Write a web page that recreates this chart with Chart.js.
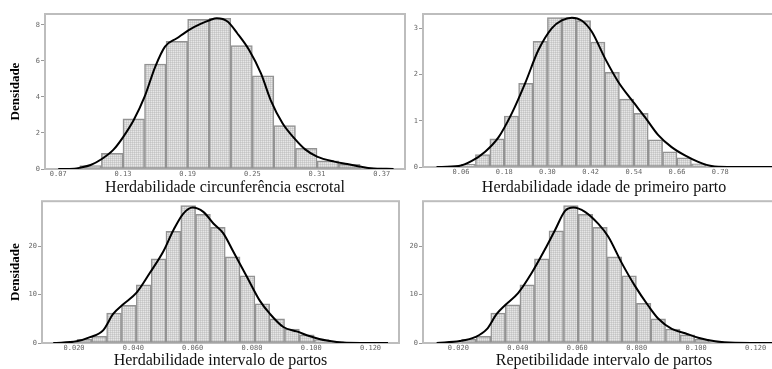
<!DOCTYPE html>
<html>
<head>
<meta charset="utf-8">
<script src="https://cdn.jsdelivr.net/npm/chart.js@4.4.1/dist/chart.umd.min.js"></script>
<style>
  html, body { margin: 0; padding: 0; background: #fff; overflow: hidden; }
  body { width: 772px; height: 369px; position: relative; }
  canvas { position: absolute; }
</style>
</head>
<body>
<canvas id="ceChart" width="410" height="197" style="left:0;top:0"></canvas>
<canvas id="ippChart" width="405" height="197" style="left:385px;top:0"></canvas>
<canvas id="ipHerChart" width="404" height="174" style="left:0;top:196px"></canvas>
<canvas id="ipRepChart" width="405" height="174" style="left:385px;top:196px"></canvas>
<script>
// Posterior densities: histogram bins (left edges) + smoothed density curve

// Herdabilidade circunferencia escrotal
const ceBins = [0.09, 0.11, 0.13, 0.15, 0.17, 0.19, 0.21, 0.23, 0.25, 0.27, 0.29, 0.31, 0.33, 0.35];
const ceHeights = [0.19, 0.87, 2.78, 5.83, 7.09, 8.31, 8.37, 6.85, 5.17, 2.41, 1.15, 0.46, 0.26, 0.05];
const ceCurveX = [0.070, 0.085, 0.090, 0.100, 0.110, 0.121, 0.130, 0.140, 0.150, 0.160, 0.169, 0.180, 0.191, 0.202, 0.211, 0.217, 0.227, 0.236, 0.247, 0.258, 0.267, 0.278, 0.289, 0.299, 0.310, 0.326, 0.338, 0.351, 0.360, 0.381];
const ceCurveY = [0, 0.02, 0.07, 0.22, 0.54, 1.06, 1.76, 2.72, 4.00, 5.69, 6.80, 7.26, 7.72, 8.06, 8.28, 8.37, 8.19, 7.54, 6.61, 5.31, 3.83, 2.54, 1.70, 1.09, 0.69, 0.41, 0.28, 0.13, 0.04, 0];
const ceXTicks = [0.07, 0.13, 0.19, 0.25, 0.31, 0.37];
const ceYTicks = [0, 2, 4, 6, 8];

// Herdabilidade idade de primeiro parto
const ippBins = [0.06, 0.10, 0.14, 0.18, 0.22, 0.26, 0.30, 0.34, 0.38, 0.42, 0.46, 0.50, 0.54, 0.58, 0.62, 0.66, 0.70];
const ippHeights = [0.06, 0.27, 0.61, 1.10, 1.81, 2.72, 3.23, 3.23, 3.17, 2.70, 2.05, 1.47, 1.16, 0.59, 0.33, 0.20, 0.07];
const ippCurveX = [-0.008, 0.053, 0.090, 0.127, 0.164, 0.201, 0.238, 0.275, 0.312, 0.340, 0.368, 0.395, 0.423, 0.460, 0.497, 0.534, 0.571, 0.608, 0.645, 0.682, 0.719, 0.756, 0.800, 0.960];
const ippCurveY = [0, 0.02, 0.13, 0.33, 0.64, 1.16, 1.81, 2.53, 3.00, 3.17, 3.23, 3.17, 2.93, 2.35, 1.84, 1.45, 1.08, 0.69, 0.43, 0.25, 0.11, 0.02, 0, 0];
const ippXTicks = [0.06, 0.18, 0.30, 0.42, 0.54, 0.66, 0.78];
const ippYTicks = [0, 1, 2, 3];

// Herdabilidade intervalo de partos
const ipHerBins = [0.021, 0.026, 0.031, 0.036, 0.041, 0.046, 0.051, 0.056, 0.061, 0.066, 0.071, 0.076, 0.081, 0.086, 0.091, 0.096, 0.101, 0.106];
const ipHerHeights = [0.75, 1.4, 6.2, 7.8, 12.0, 17.4, 23.1, 28.4, 26.6, 23.9, 17.8, 13.9, 8.1, 5.0, 2.9, 1.7, 0.7, 0.25];
const ipHerCurveX = [0.0130, 0.0209, 0.0254, 0.0298, 0.0332, 0.0366, 0.0411, 0.0456, 0.0501, 0.0535, 0.0568, 0.0600, 0.0636, 0.0670, 0.0703, 0.0737, 0.0782, 0.0827, 0.0861, 0.0906, 0.0951, 0.0996, 0.1052, 0.1119, 0.1259];
const ipHerCurveY = [0, 0.34, 1.2, 2.6, 6.0, 8.0, 10.4, 14.5, 18.9, 23.3, 26.7, 28.0, 27.1, 24.7, 22.7, 18.9, 13.8, 8.7, 6.0, 3.3, 2.4, 1.4, 0.5, 0.07, 0];

// Repetibilidade intervalo de partos
const ipRepBins = [0.0211, 0.0260, 0.0309, 0.0358, 0.0407, 0.0456, 0.0505, 0.0554, 0.0603, 0.0652, 0.0701, 0.0750, 0.0799, 0.0848, 0.0897, 0.0946, 0.0995, 0.1044];
const ipRepHeights = [0.75, 1.4, 6.2, 7.9, 12.0, 17.4, 23.2, 28.4, 26.6, 23.9, 17.8, 13.9, 8.2, 5.0, 2.9, 1.7, 0.75, 0.25];
const ipRepCurveX = [0.0127, 0.0205, 0.0256, 0.0295, 0.0329, 0.0357, 0.0401, 0.0446, 0.0491, 0.0525, 0.0559, 0.0587, 0.0626, 0.0671, 0.0704, 0.0750, 0.0794, 0.0839, 0.0873, 0.0918, 0.0963, 0.1007, 0.1064, 0.1131, 0.1300];
const ipRepCurveY = [0, 0.4, 1.2, 2.8, 6.0, 7.8, 10.3, 14.4, 19.3, 23.3, 27.3, 28.0, 27.1, 24.6, 22.0, 16.5, 11.8, 7.7, 5.0, 2.9, 2.0, 1.1, 0.35, 0.07, 0];

const ipXTicks = [0.020, 0.040, 0.060, 0.080, 0.100, 0.120];
const ipYTicks = [0, 10, 20];

const tickFont = { family: 'DejaVu Sans Mono', size: 7 };
const titleFont = { family: 'Liberation Serif', size: 16 };

// fine grey grid texture used as bar fill (the original is a screen grab of hatched bars)
function barTexture() {
    const c = document.createElement('canvas');
    c.width = 2;
    c.height = 2;
    const g = c.getContext('2d');
    g.fillStyle = '#e6e6e6'; g.fillRect(0, 0, 2, 2);
    g.fillStyle = '#d2d2d2'; g.fillRect(0, 0, 2, 1); g.fillRect(0, 0, 1, 2);
    g.fillStyle = '#c4c4c4'; g.fillRect(0, 0, 1, 1);
    return g.createPattern(c, 'repeat');
}

// grey box around each plot area, drawn under the bars
const framePlugin = {
    id: 'frame',
    beforeDatasetsDraw(chart) {
        const { ctx, chartArea: a } = chart;
        ctx.save();
        ctx.strokeStyle = '#bdbdbd';
        ctx.lineWidth = 2;
        ctx.strokeRect(a.left, a.top, a.right - a.left, a.bottom - a.top);
        ctx.restore();
    }
};

function histogramChart(id, o) {
    const ctx = document.getElementById(id).getContext('2d');
    const binWidth = o.bins[1] - o.bins[0];

    return new Chart(ctx, {
        type: 'bar',
        data: {
            datasets: [{
                type: 'line',
                data: o.curveX.map((x, i) => ({ x, y: o.curveY[i] })),
                borderColor: '#000',
                borderWidth: 2,
                pointRadius: 0,
                cubicInterpolationMode: 'monotone',
                order: 0
            }, {
                type: 'bar',
                data: o.bins.map((b, i) => ({ x: b + binWidth / 2, y: o.heights[i] })),
                backgroundColor: barTexture(),
                borderColor: '#939393',
                borderWidth: 1.5,
                borderSkipped: false,
                barPercentage: 1,
                categoryPercentage: 1,
                order: 1
            }]
        },
        options: {
            responsive: false,
            animation: false,
            layout: { padding: o.padding },
            plugins: { legend: { display: false }, tooltip: { enabled: false } },
            scales: {
                x: {
                    type: 'linear',
                    min: o.xMin,
                    max: o.xMax,
                    offset: false,
                    grid: { display: false, drawTicks: false },
                    border: { display: false },
                    afterBuildTicks: s => { s.ticks = o.xTicks.map(v => ({ value: v })); },
                    afterFit: s => { s.height = o.xHeight; },
                    ticks: {
                        font: tickFont,
                        color: '#666',
                        padding: 1,
                        maxRotation: 0,
                        callback: v => v.toFixed(o.decimals)
                    },
                    title: {
                        display: true,
                        text: o.xTitle,
                        font: titleFont,
                        color: '#111',
                        padding: { top: 0, bottom: 0 }
                    }
                },
                y: {
                    min: 0,
                    max: o.yMax,
                    afterBuildTicks: s => { s.ticks = o.yTicks.map(v => ({ value: v })); },
                    afterFit: s => { s.width = o.yWidth; },
                    grid: { display: true, drawOnChartArea: false, drawTicks: true, tickLength: 4, color: '#999' },
                    border: { display: false },
                    ticks: {
                        font: tickFont,
                        color: '#666',
                        padding: 1,
                        callback: v => String(v)
                    },
                    title: {
                        display: !!o.yTitle,
                        text: o.yTitle || '',
                        font: { family: 'Liberation Serif', size: 13, weight: 'bold' },
                        color: '#000',
                        padding: { top: 8, bottom: 0 }
                    }
                }
            }
        },
        plugins: [framePlugin]
    });
}

window.onload = function () {
    histogramChart('ceChart', {
        bins: ceBins, heights: ceHeights, curveX: ceCurveX, curveY: ceCurveY,
        xTicks: ceXTicks, yTicks: ceYTicks, decimals: 2,
        xMin: 0.0577, xMax: 0.3916, yMax: 8.61,
        padding: { top: 14, right: 5, left: 0, bottom: 0 }, yWidth: 45, xHeight: 28,
        xTitle: 'Herdabilidade circunferência escrotal', yTitle: 'Densidade'
    });
    histogramChart('ippChart', {
        bins: ippBins, heights: ippHeights, curveX: ippCurveX, curveY: ippCurveY,
        xTicks: ippXTicks, yTicks: ippYTicks, decimals: 2,
        xMin: -0.0456, xMax: 0.96, yMax: 3.31,
        padding: { top: 14, right: 5, left: 0, bottom: 0 }, yWidth: 38, xHeight: 30,
        xTitle: 'Herdabilidade idade de primeiro parto'
    });
    histogramChart('ipHerChart', {
        bins: ipHerBins, heights: ipHerHeights, curveX: ipHerCurveX, curveY: ipHerCurveY,
        xTicks: ipXTicks, yTicks: ipYTicks, decimals: 3,
        xMin: 0.0092, xMax: 0.1296, yMax: 29.3,
        padding: { top: 3, right: 5, left: 0, bottom: 0 }, yWidth: 42, xHeight: 27,
        xTitle: 'Herdabilidade intervalo de partos', yTitle: 'Densidade'
    });
    histogramChart('ipRepChart', {
        bins: ipRepBins, heights: ipRepHeights, curveX: ipRepCurveX, curveY: ipRepCurveY,
        xTicks: ipXTicks, yTicks: ipYTicks, decimals: 3,
        xMin: 0.0081, xMax: 0.1299, yMax: 29.3,
        padding: { top: 3, right: 5, left: 0, bottom: 0 }, yWidth: 38, xHeight: 27,
        xTitle: 'Repetibilidade intervalo de partos'
    });
};
</script>
</body>
</html>
